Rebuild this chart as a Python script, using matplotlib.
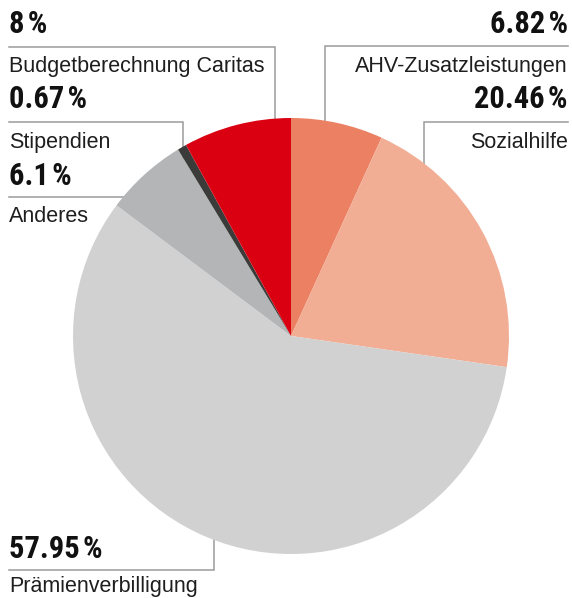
import matplotlib
matplotlib.use("Agg")
import matplotlib.pyplot as plt
from matplotlib import font_manager

labels = ["AHV-Zusatzleistungen", "Sozialhilfe", "Prämienverbilligung",
          "Anderes", "Stipendien", "Budgetberechnung Caritas"]
values = [6.82, 20.46, 57.95, 6.1, 0.67, 8]
colors = ["#eb8062", "#f1ae95", "#d0d1d0", "#b4b5b7", "#3b3b39", "#da0012"]

W, H = 572, 598
names = {f.name for f in font_manager.fontManager.ttflist}

narrow = [f for f in ["Liberation Sans Narrow", "Roboto Condensed",
                      "Open Sans Condensed", "DejaVu Sans Condensed"] if f in names]
bold_fam = narrow + ["Liberation Sans", "DejaVu Sans"]
pct_size = 22 if narrow else 21
reg_fam = ["Liberation Sans", "DejaVu Sans"]

fig = plt.figure(figsize=(W / 100, H / 100), dpi=100)
ax = fig.add_axes([0, 0, 1, 1])


def Y(y):
    # pixel rows from the top -> data y
    return H - y


cx, cy, r = 291, 336, 218
ax.pie(values, colors=colors, startangle=90, counterclock=False,
       center=(cx, Y(cy)), radius=r, frame=True,
       wedgeprops=dict(linewidth=0, zorder=3))
ax.set_xlim(0, W)
ax.set_ylim(0, H)
ax.set_aspect("equal")
ax.axis("off")

# label layout: (index, x, pct baseline, label baseline, align, leader line points)
layout = [
    (5, 9, 33, 72, "left", [(9, 47), (275, 47), (275, 150)]),
    (4, 9, 108, 148, "left", [(9, 122), (183, 122), (183, 160)]),
    (3, 9, 185, 222, "left", [(9, 197), (150, 197)]),
    (0, 568, 33, 72, "right", [(568, 46), (325, 46), (325, 150)]),
    (1, 568, 108, 148, "right", [(568, 122), (424, 122), (424, 190)]),
    (2, 9, 558, 592, "left", [(9, 570), (214, 570), (214, 520)]),
]

for i, x, yp, yl, ha, pts in layout:
    ax.plot([p[0] for p in pts], [Y(p[1]) for p in pts], color="#9b9b9b",
            lw=1.1, zorder=1, solid_joinstyle="miter")
    ax.text(x, Y(yp), f"{values[i]:g}\u200a%", ha=ha, va="baseline",
            fontsize=pct_size, fontweight="heavy", family=bold_fam, color="#111111")
    ax.text(x, Y(yl), labels[i], ha=ha, va="baseline",
            fontsize=15.5, family=reg_fam, color="#1e1e1e")

fig.savefig("out.png", dpi=100)
